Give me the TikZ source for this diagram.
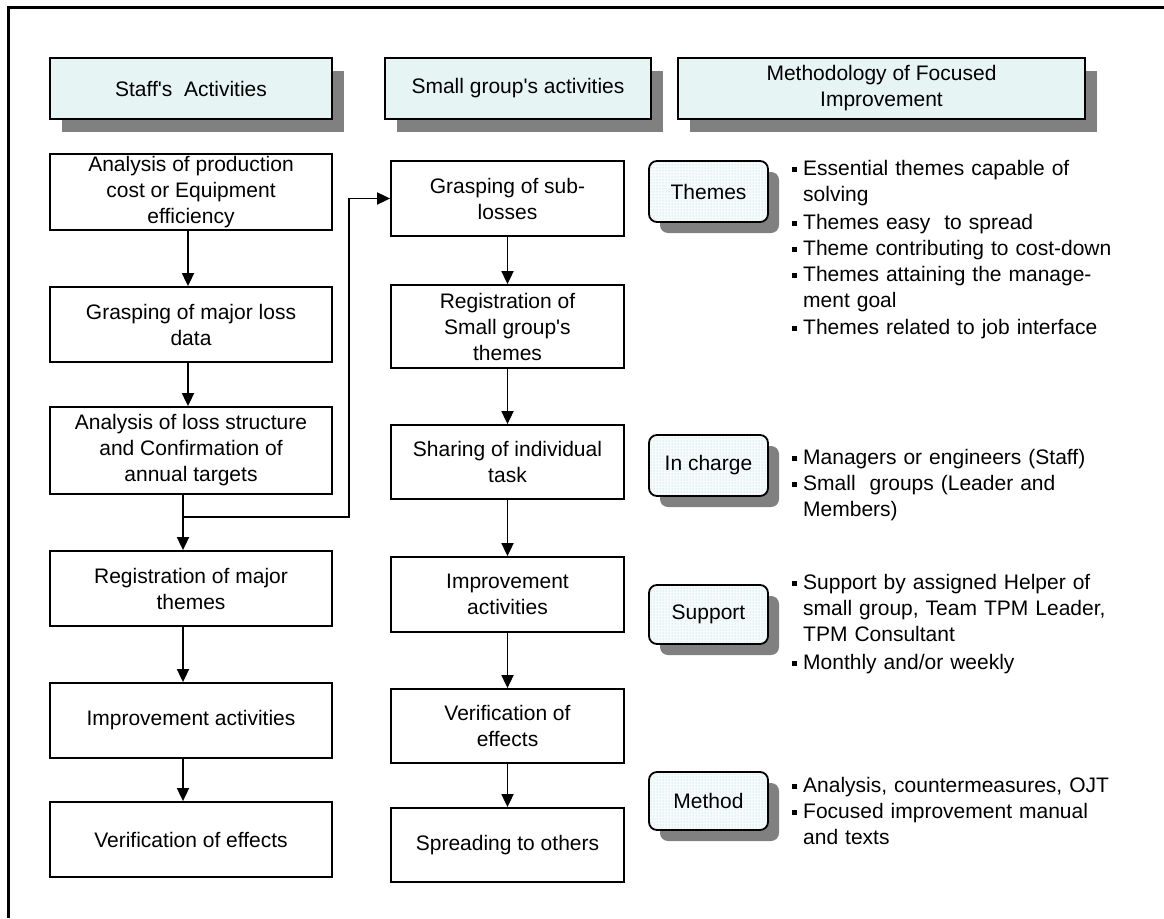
\documentclass[tikz,border=0pt]{standalone}
\usepackage{fontspec}
\setmainfont{Liberation Sans}[Ligatures=TeXOff]
\usetikzlibrary{arrows.meta,shadows,patterns}
\definecolor{hdrfill}{RGB}{231,244,244}
\definecolor{shd}{RGB}{128,128,128}
\definecolor{dotc}{RGB}{165,208,218}
\definecolor{tagfill}{RGB}{246,251,251}
\newcommand\bsq{\makebox[11pt][l]{\rule[3.5pt]{4.5pt}{4.5pt}}}
\newcommand\bind{\hspace*{11pt}}
\begin{document}
\begin{tikzpicture}[x=1pt,y=-1pt,
  font=\fontsize{21}{26}\selectfont,
  box/.style={draw=black,line width=1.8pt,fill=white,align=center,inner sep=0pt},
  lbox/.style={box,minimum width=282pt},
  mbox/.style={box,minimum width=233pt},
  hdr/.style={box,fill=hdrfill,minimum height=61pt,
    drop shadow={shadow xshift=12pt,shadow yshift=-13pt,fill=shd,opacity=1}},
  tag/.style={draw=black,line width=1.8pt,rounded corners=8pt,align=center,inner sep=0pt,
    minimum width=119pt,
    drop shadow={shadow xshift=11pt,shadow yshift=-11pt,fill=shd,opacity=1},
    preaction={fill=tagfill}, pattern=dots, pattern color=dotc},
  arr/.style={line width=1.8pt,-{Triangle[width=12pt,length=13pt]}},
  bul/.style={anchor=base west,inner sep=0pt,text width=370pt,align=left}]
\useasboundingbox (0,0) rectangle (1164,918);
% frame
\draw[line width=3pt] (8,918) -- (8,7) -- (1164,7);
% headers
\node[hdr,minimum width=282pt] (h1) at (191,88.5) {Staff's\ \ Activities};
\node[hdr,minimum width=266pt] (h2) at (518,88.5) {Small group's activities};
\node[hdr,minimum width=407pt] (h3) at (881.5,88.5) {Methodology of Focused\\Improvement};
% left column
\node[lbox,minimum height=76pt] (b1) at (191,192) {Analysis of production\\cost or Equipment\\efficiency};
\node[lbox,minimum height=75pt] (b2) at (191,324.5) {Grasping of major loss\\data};
\node[lbox,minimum height=87pt] (b3) at (191,450.5) {Analysis of loss structure\\and Confirmation of\\annual targets};
\node[lbox,minimum height=75pt] (b4) at (191,588.5) {Registration of major\\themes};
\node[lbox,minimum height=75pt] (b5) at (191,720.5) {Improvement activities};
\node[lbox,minimum height=75pt] (b6) at (191,839.5) {Verification of effects};
% middle column
\node[mbox,minimum height=75pt] (m1) at (507.5,198.5) {Grasping of sub-\\losses};
\node[mbox,minimum height=83pt] (m2) at (507.5,326.5) {Registration of\\Small group's\\themes};
\node[mbox,minimum height=74pt] (m3) at (507.5,462) {Sharing of individual\\task};
\node[mbox,minimum height=75pt] (m4) at (507.5,594.5) {Improvement\\activities};
\node[mbox,minimum height=74pt] (m5) at (507.5,726) {Verification of\\effects};
\node[mbox,minimum height=74pt] (m6) at (507.5,845) {Spreading to others};
% tags
\node[tag,minimum height=61pt] (t1) at (708.5,191.5) {Themes};
\node[tag,minimum height=61pt] (t2) at (708.5,465.5) {In charge};
\node[tag,minimum height=59pt] (t3) at (708.5,614.5) {Support};
\node[tag,minimum height=58pt] (t4) at (708.5,801) {Method};
% bullet texts
\node[bul] (th1) at (792,175) {\bsq Essential themes capable of\\\bind solving};
\node[bul] (th2) at (792,229) {\bsq Themes easy\ \ to spread};
\node[bul] (th3) at (792,255) {\bsq Theme contributing to cost-down};
\node[bul] (th4) at (792,281) {\bsq Themes attaining the manage-\\\bind ment goal};
\node[bul] (th5) at (792,334) {\bsq Themes related to job interface};
\node[bul] (ic1) at (792,464) {\bsq Managers or engineers (Staff)};
\node[bul] (ic2) at (792,490) {\bsq Small\ \ groups (Leader and\\\bind Members)};
\node[bul] (su1) at (792,589) {\bsq Support by assigned Helper of\\\bind small group, Team TPM Leader,\\\bind TPM Consultant};
\node[bul] (su2) at (792,669) {\bsq Monthly and/or weekly};
\node[bul] (me1) at (792,792) {\bsq Analysis, countermeasures, OJT};
\node[bul] (me2) at (792,818) {\bsq Focused improvement manual\\\bind and texts};
% left arrows
\draw[arr] ([xshift=-3pt]b1.south) -- ([xshift=-3pt]b2.north);
\draw[arr] ([xshift=-3pt]b2.south) -- ([xshift=-3pt]b3.north);
\draw[arr] ([xshift=-8pt]b3.south) -- ([xshift=-8pt]b4.north);
\draw[arr] ([xshift=-8pt]b4.south) -- ([xshift=-8pt]b5.north);
\draw[arr] ([xshift=-8pt]b5.south) -- ([xshift=-8pt]b6.north);
% branch to middle column
\coordinate (br) at (183,517);
\coordinate (bc) at (349,517);
\draw[arr] (br) -- (bc) |- (m1.west);
% middle arrows
\draw[arr] (m1.south) -- (m2.north);
\draw[arr] (m2.south) -- (m3.north);
\draw[arr] (m3.south) -- (m4.north);
\draw[arr] (m4.south) -- (m5.north);
\draw[arr] (m5.south) -- (m6.north);
\end{tikzpicture}
\end{document}
